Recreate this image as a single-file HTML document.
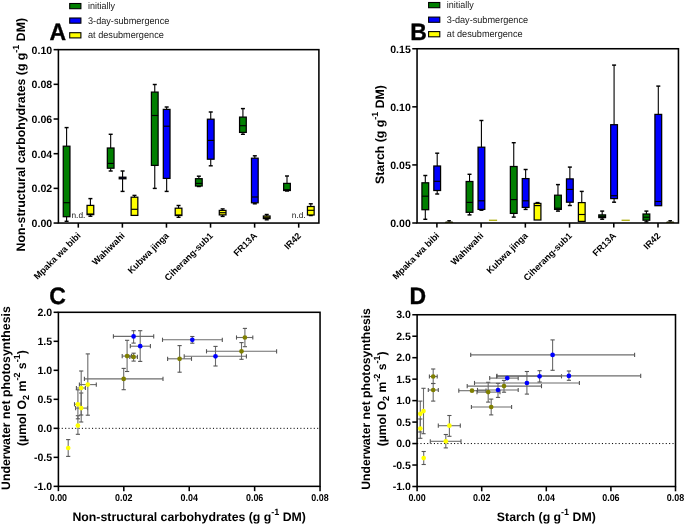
<!DOCTYPE html>
<html><head><meta charset="utf-8"><style>
html,body{margin:0;padding:0;background:#fff;}
svg{display:block;font-family:"Liberation Sans", sans-serif;will-change:transform;text-rendering:geometricPrecision;}
</style></head><body>
<svg width="685" height="525" viewBox="0 0 685 525">
<rect width="685" height="525" fill="#fff"/>
<rect x="58.4" y="49.65" width="260.5" height="173.4" fill="none" stroke="#000" stroke-width="1.55"/>
<line x1="53.60" y1="223.05" x2="58.40" y2="223.05" stroke="#000" stroke-width="1.55" />
<text x="52.20" y="227.10" font-size="10.6" font-weight="bold" text-anchor="end" fill="#000" >0.00</text>
<line x1="53.60" y1="188.37" x2="58.40" y2="188.37" stroke="#000" stroke-width="1.55" />
<text x="52.20" y="192.42" font-size="10.6" font-weight="bold" text-anchor="end" fill="#000" >0.02</text>
<line x1="53.60" y1="153.69" x2="58.40" y2="153.69" stroke="#000" stroke-width="1.55" />
<text x="52.20" y="157.74" font-size="10.6" font-weight="bold" text-anchor="end" fill="#000" >0.04</text>
<line x1="53.60" y1="119.01" x2="58.40" y2="119.01" stroke="#000" stroke-width="1.55" />
<text x="52.20" y="123.06" font-size="10.6" font-weight="bold" text-anchor="end" fill="#000" >0.06</text>
<line x1="53.60" y1="84.33" x2="58.40" y2="84.33" stroke="#000" stroke-width="1.55" />
<text x="52.20" y="88.38" font-size="10.6" font-weight="bold" text-anchor="end" fill="#000" >0.08</text>
<line x1="53.60" y1="49.65" x2="58.40" y2="49.65" stroke="#000" stroke-width="1.55" />
<text x="52.20" y="53.70" font-size="10.6" font-weight="bold" text-anchor="end" fill="#000" >0.10</text>
<line x1="78.30" y1="223.05" x2="78.30" y2="227.65" stroke="#000" stroke-width="1.55" />
<line x1="122.38" y1="223.05" x2="122.38" y2="227.65" stroke="#000" stroke-width="1.55" />
<line x1="166.46" y1="223.05" x2="166.46" y2="227.65" stroke="#000" stroke-width="1.55" />
<line x1="210.54" y1="223.05" x2="210.54" y2="227.65" stroke="#000" stroke-width="1.55" />
<line x1="254.62" y1="223.05" x2="254.62" y2="227.65" stroke="#000" stroke-width="1.55" />
<line x1="298.70" y1="223.05" x2="298.70" y2="227.65" stroke="#000" stroke-width="1.55" />
<line x1="66.60" y1="127.60" x2="66.60" y2="146.20" stroke="#000" stroke-width="1.1" />
<line x1="64.60" y1="127.60" x2="68.60" y2="127.60" stroke="#000" stroke-width="1.45" />
<line x1="66.60" y1="216.70" x2="66.60" y2="221.30" stroke="#000" stroke-width="1.1" />
<line x1="64.60" y1="221.30" x2="68.60" y2="221.30" stroke="#000" stroke-width="1.45" />
<rect x="63.25" y="146.20" width="6.70" height="70.50" fill="#007f00" stroke="#000" stroke-width="1.25"/>
<line x1="63.25" y1="202.70" x2="69.95" y2="202.70" stroke="#000" stroke-width="1.15" />
<line x1="90.40" y1="198.60" x2="90.40" y2="205.40" stroke="#000" stroke-width="1.1" />
<line x1="88.40" y1="198.60" x2="92.40" y2="198.60" stroke="#000" stroke-width="1.45" />
<line x1="90.40" y1="214.60" x2="90.40" y2="216.20" stroke="#000" stroke-width="1.1" />
<line x1="88.40" y1="216.20" x2="92.40" y2="216.20" stroke="#000" stroke-width="1.45" />
<rect x="87.05" y="205.40" width="6.70" height="9.20" fill="#ffff00" stroke="#000" stroke-width="1.25"/>
<line x1="87.05" y1="214.00" x2="93.75" y2="214.00" stroke="#000" stroke-width="1.15" />
<line x1="110.68" y1="134.30" x2="110.68" y2="148.00" stroke="#000" stroke-width="1.1" />
<line x1="108.68" y1="134.30" x2="112.68" y2="134.30" stroke="#000" stroke-width="1.45" />
<line x1="110.68" y1="168.20" x2="110.68" y2="171.00" stroke="#000" stroke-width="1.1" />
<line x1="108.68" y1="171.00" x2="112.68" y2="171.00" stroke="#000" stroke-width="1.45" />
<rect x="107.33" y="148.00" width="6.70" height="20.20" fill="#007f00" stroke="#000" stroke-width="1.25"/>
<line x1="107.33" y1="163.40" x2="114.03" y2="163.40" stroke="#000" stroke-width="1.15" />
<line x1="122.58" y1="171.00" x2="122.58" y2="177.20" stroke="#000" stroke-width="1.1" />
<line x1="120.58" y1="171.00" x2="124.58" y2="171.00" stroke="#000" stroke-width="1.45" />
<line x1="122.58" y1="178.80" x2="122.58" y2="191.40" stroke="#000" stroke-width="1.1" />
<line x1="120.58" y1="191.40" x2="124.58" y2="191.40" stroke="#000" stroke-width="1.45" />
<rect x="119.23" y="177.20" width="6.70" height="1.60" fill="#0000ff" stroke="#000" stroke-width="1.25"/>
<line x1="119.23" y1="178.00" x2="125.93" y2="178.00" stroke="#000" stroke-width="1.15" />
<line x1="134.48" y1="195.40" x2="134.48" y2="197.20" stroke="#000" stroke-width="1.1" />
<line x1="132.48" y1="195.40" x2="136.48" y2="195.40" stroke="#000" stroke-width="1.45" />
<rect x="131.13" y="197.20" width="6.70" height="18.20" fill="#ffff00" stroke="#000" stroke-width="1.25"/>
<line x1="131.13" y1="209.30" x2="137.83" y2="209.30" stroke="#000" stroke-width="1.15" />
<line x1="154.76" y1="84.50" x2="154.76" y2="92.10" stroke="#000" stroke-width="1.1" />
<line x1="152.76" y1="84.50" x2="156.76" y2="84.50" stroke="#000" stroke-width="1.45" />
<line x1="154.76" y1="165.40" x2="154.76" y2="188.40" stroke="#000" stroke-width="1.1" />
<line x1="152.76" y1="188.40" x2="156.76" y2="188.40" stroke="#000" stroke-width="1.45" />
<rect x="151.41" y="92.10" width="6.70" height="73.30" fill="#007f00" stroke="#000" stroke-width="1.25"/>
<line x1="151.41" y1="115.50" x2="158.11" y2="115.50" stroke="#000" stroke-width="1.15" />
<line x1="166.66" y1="107.00" x2="166.66" y2="109.40" stroke="#000" stroke-width="1.1" />
<line x1="164.66" y1="107.00" x2="168.66" y2="107.00" stroke="#000" stroke-width="1.45" />
<line x1="166.66" y1="178.40" x2="166.66" y2="191.40" stroke="#000" stroke-width="1.1" />
<line x1="164.66" y1="191.40" x2="168.66" y2="191.40" stroke="#000" stroke-width="1.45" />
<rect x="163.31" y="109.40" width="6.70" height="69.00" fill="#0000ff" stroke="#000" stroke-width="1.25"/>
<line x1="163.31" y1="126.20" x2="170.01" y2="126.20" stroke="#000" stroke-width="1.15" />
<line x1="178.56" y1="205.50" x2="178.56" y2="208.20" stroke="#000" stroke-width="1.1" />
<line x1="176.56" y1="205.50" x2="180.56" y2="205.50" stroke="#000" stroke-width="1.45" />
<line x1="178.56" y1="215.50" x2="178.56" y2="217.30" stroke="#000" stroke-width="1.1" />
<line x1="176.56" y1="217.30" x2="180.56" y2="217.30" stroke="#000" stroke-width="1.45" />
<rect x="175.21" y="208.20" width="6.70" height="7.30" fill="#ffff00" stroke="#000" stroke-width="1.25"/>
<line x1="175.21" y1="215.00" x2="181.91" y2="215.00" stroke="#000" stroke-width="1.15" />
<line x1="198.84" y1="176.20" x2="198.84" y2="178.70" stroke="#000" stroke-width="1.1" />
<line x1="196.84" y1="176.20" x2="200.84" y2="176.20" stroke="#000" stroke-width="1.45" />
<line x1="198.84" y1="186.00" x2="198.84" y2="186.50" stroke="#000" stroke-width="1.1" />
<line x1="196.84" y1="186.50" x2="200.84" y2="186.50" stroke="#000" stroke-width="1.45" />
<rect x="195.49" y="178.70" width="6.70" height="7.30" fill="#007f00" stroke="#000" stroke-width="1.25"/>
<line x1="195.49" y1="183.40" x2="202.19" y2="183.40" stroke="#000" stroke-width="1.15" />
<line x1="210.74" y1="112.00" x2="210.74" y2="119.20" stroke="#000" stroke-width="1.1" />
<line x1="208.74" y1="112.00" x2="212.74" y2="112.00" stroke="#000" stroke-width="1.45" />
<line x1="210.74" y1="159.20" x2="210.74" y2="165.80" stroke="#000" stroke-width="1.1" />
<line x1="208.74" y1="165.80" x2="212.74" y2="165.80" stroke="#000" stroke-width="1.45" />
<rect x="207.39" y="119.20" width="6.70" height="40.00" fill="#0000ff" stroke="#000" stroke-width="1.25"/>
<line x1="207.39" y1="140.40" x2="214.09" y2="140.40" stroke="#000" stroke-width="1.15" />
<line x1="222.64" y1="208.90" x2="222.64" y2="210.40" stroke="#000" stroke-width="1.1" />
<line x1="220.64" y1="208.90" x2="224.64" y2="208.90" stroke="#000" stroke-width="1.45" />
<line x1="222.64" y1="214.90" x2="222.64" y2="216.40" stroke="#000" stroke-width="1.1" />
<line x1="220.64" y1="216.40" x2="224.64" y2="216.40" stroke="#000" stroke-width="1.45" />
<rect x="219.29" y="210.40" width="6.70" height="4.50" fill="#ffff00" stroke="#000" stroke-width="1.25"/>
<line x1="219.29" y1="212.70" x2="225.99" y2="212.70" stroke="#000" stroke-width="1.15" />
<line x1="242.92" y1="108.60" x2="242.92" y2="117.10" stroke="#000" stroke-width="1.1" />
<line x1="240.92" y1="108.60" x2="244.92" y2="108.60" stroke="#000" stroke-width="1.45" />
<line x1="242.92" y1="132.40" x2="242.92" y2="134.30" stroke="#000" stroke-width="1.1" />
<line x1="240.92" y1="134.30" x2="244.92" y2="134.30" stroke="#000" stroke-width="1.45" />
<rect x="239.57" y="117.10" width="6.70" height="15.30" fill="#007f00" stroke="#000" stroke-width="1.25"/>
<line x1="239.57" y1="125.70" x2="246.27" y2="125.70" stroke="#000" stroke-width="1.15" />
<line x1="254.82" y1="155.80" x2="254.82" y2="158.20" stroke="#000" stroke-width="1.1" />
<line x1="252.82" y1="155.80" x2="256.82" y2="155.80" stroke="#000" stroke-width="1.45" />
<line x1="254.82" y1="202.80" x2="254.82" y2="203.80" stroke="#000" stroke-width="1.1" />
<line x1="252.82" y1="203.80" x2="256.82" y2="203.80" stroke="#000" stroke-width="1.45" />
<rect x="251.47" y="158.20" width="6.70" height="44.60" fill="#0000ff" stroke="#000" stroke-width="1.25"/>
<line x1="251.47" y1="197.00" x2="258.17" y2="197.00" stroke="#000" stroke-width="1.15" />
<line x1="266.72" y1="214.50" x2="266.72" y2="216.00" stroke="#000" stroke-width="1.1" />
<line x1="264.72" y1="214.50" x2="268.72" y2="214.50" stroke="#000" stroke-width="1.45" />
<line x1="266.72" y1="218.60" x2="266.72" y2="219.80" stroke="#000" stroke-width="1.1" />
<line x1="264.72" y1="219.80" x2="268.72" y2="219.80" stroke="#000" stroke-width="1.45" />
<rect x="263.37" y="216.00" width="6.70" height="2.60" fill="#ffff00" stroke="#000" stroke-width="1.25"/>
<line x1="263.37" y1="217.30" x2="270.07" y2="217.30" stroke="#000" stroke-width="1.15" />
<line x1="287.00" y1="176.00" x2="287.00" y2="183.40" stroke="#000" stroke-width="1.1" />
<line x1="285.00" y1="176.00" x2="289.00" y2="176.00" stroke="#000" stroke-width="1.45" />
<line x1="287.00" y1="190.50" x2="287.00" y2="191.00" stroke="#000" stroke-width="1.1" />
<line x1="285.00" y1="191.00" x2="289.00" y2="191.00" stroke="#000" stroke-width="1.45" />
<rect x="283.65" y="183.40" width="6.70" height="7.10" fill="#007f00" stroke="#000" stroke-width="1.25"/>
<line x1="283.65" y1="189.70" x2="290.35" y2="189.70" stroke="#000" stroke-width="1.15" />
<line x1="310.80" y1="203.80" x2="310.80" y2="206.50" stroke="#000" stroke-width="1.1" />
<line x1="308.80" y1="203.80" x2="312.80" y2="203.80" stroke="#000" stroke-width="1.45" />
<line x1="310.80" y1="215.00" x2="310.80" y2="215.50" stroke="#000" stroke-width="1.1" />
<line x1="308.80" y1="215.50" x2="312.80" y2="215.50" stroke="#000" stroke-width="1.45" />
<rect x="307.45" y="206.50" width="6.70" height="8.50" fill="#ffff00" stroke="#000" stroke-width="1.25"/>
<line x1="307.45" y1="210.30" x2="314.15" y2="210.30" stroke="#000" stroke-width="1.15" />
<text x="71.50" y="218.20" font-size="8.3" font-weight="normal" text-anchor="start" fill="#1a1a1a" >n.d.</text>
<text x="291.80" y="218.20" font-size="8.3" font-weight="normal" text-anchor="start" fill="#1a1a1a" >n.d.</text>
<rect x="417.05" y="48.75" width="261.40000000000003" height="174.25" fill="none" stroke="#000" stroke-width="1.55"/>
<line x1="412.25" y1="223.00" x2="417.05" y2="223.00" stroke="#000" stroke-width="1.55" />
<text x="410.85" y="227.05" font-size="10.6" font-weight="bold" text-anchor="end" fill="#000" >0.00</text>
<line x1="412.25" y1="164.92" x2="417.05" y2="164.92" stroke="#000" stroke-width="1.55" />
<text x="410.85" y="168.97" font-size="10.6" font-weight="bold" text-anchor="end" fill="#000" >0.05</text>
<line x1="412.25" y1="106.83" x2="417.05" y2="106.83" stroke="#000" stroke-width="1.55" />
<text x="410.85" y="110.88" font-size="10.6" font-weight="bold" text-anchor="end" fill="#000" >0.10</text>
<line x1="412.25" y1="48.75" x2="417.05" y2="48.75" stroke="#000" stroke-width="1.55" />
<text x="410.85" y="52.80" font-size="10.6" font-weight="bold" text-anchor="end" fill="#000" >0.15</text>
<line x1="436.90" y1="223.00" x2="436.90" y2="227.60" stroke="#000" stroke-width="1.55" />
<line x1="481.12" y1="223.00" x2="481.12" y2="227.60" stroke="#000" stroke-width="1.55" />
<line x1="525.34" y1="223.00" x2="525.34" y2="227.60" stroke="#000" stroke-width="1.55" />
<line x1="569.56" y1="223.00" x2="569.56" y2="227.60" stroke="#000" stroke-width="1.55" />
<line x1="613.78" y1="223.00" x2="613.78" y2="227.60" stroke="#000" stroke-width="1.55" />
<line x1="658.00" y1="223.00" x2="658.00" y2="227.60" stroke="#000" stroke-width="1.55" />
<line x1="425.30" y1="175.50" x2="425.30" y2="182.80" stroke="#000" stroke-width="1.1" />
<line x1="423.30" y1="175.50" x2="427.30" y2="175.50" stroke="#000" stroke-width="1.45" />
<line x1="425.30" y1="209.70" x2="425.30" y2="219.30" stroke="#000" stroke-width="1.1" />
<line x1="423.30" y1="219.30" x2="427.30" y2="219.30" stroke="#000" stroke-width="1.45" />
<rect x="421.93" y="182.80" width="6.75" height="26.90" fill="#007f00" stroke="#000" stroke-width="1.25"/>
<line x1="421.93" y1="196.20" x2="428.68" y2="196.20" stroke="#000" stroke-width="1.15" />
<line x1="437.20" y1="153.20" x2="437.20" y2="166.00" stroke="#000" stroke-width="1.1" />
<line x1="435.20" y1="153.20" x2="439.20" y2="153.20" stroke="#000" stroke-width="1.45" />
<line x1="437.20" y1="190.50" x2="437.20" y2="194.00" stroke="#000" stroke-width="1.1" />
<line x1="435.20" y1="194.00" x2="439.20" y2="194.00" stroke="#000" stroke-width="1.45" />
<rect x="433.82" y="166.00" width="6.75" height="24.50" fill="#0000ff" stroke="#000" stroke-width="1.25"/>
<line x1="433.82" y1="181.30" x2="440.57" y2="181.30" stroke="#000" stroke-width="1.15" />
<path d="M444.80,223 L445.70,221.5 L452.50,221.5 L453.40,223 Z" fill="#1a1a00"/>
<line x1="447.30" y1="220.70" x2="450.90" y2="220.70" stroke="#000" stroke-width="1.3" />
<line x1="449.10" y1="220.70" x2="449.10" y2="221.80" stroke="#000" stroke-width="1.1" />
<line x1="469.52" y1="174.30" x2="469.52" y2="181.50" stroke="#000" stroke-width="1.1" />
<line x1="467.52" y1="174.30" x2="471.52" y2="174.30" stroke="#000" stroke-width="1.45" />
<line x1="469.52" y1="212.30" x2="469.52" y2="214.90" stroke="#000" stroke-width="1.1" />
<line x1="467.52" y1="214.90" x2="471.52" y2="214.90" stroke="#000" stroke-width="1.45" />
<rect x="466.15" y="181.50" width="6.75" height="30.80" fill="#007f00" stroke="#000" stroke-width="1.25"/>
<line x1="466.15" y1="202.40" x2="472.90" y2="202.40" stroke="#000" stroke-width="1.15" />
<line x1="481.42" y1="120.50" x2="481.42" y2="147.20" stroke="#000" stroke-width="1.1" />
<line x1="479.42" y1="120.50" x2="483.42" y2="120.50" stroke="#000" stroke-width="1.45" />
<line x1="481.42" y1="209.40" x2="481.42" y2="210.20" stroke="#000" stroke-width="1.1" />
<line x1="479.42" y1="210.20" x2="483.42" y2="210.20" stroke="#000" stroke-width="1.45" />
<rect x="478.05" y="147.20" width="6.75" height="62.20" fill="#0000ff" stroke="#000" stroke-width="1.25"/>
<line x1="478.05" y1="200.80" x2="484.80" y2="200.80" stroke="#000" stroke-width="1.15" />
<rect x="488.92" y="219.6" width="8.2" height="1.4" fill="#b4b41e"/>
<line x1="513.74" y1="142.70" x2="513.74" y2="166.50" stroke="#000" stroke-width="1.1" />
<line x1="511.74" y1="142.70" x2="515.74" y2="142.70" stroke="#000" stroke-width="1.45" />
<line x1="513.74" y1="213.40" x2="513.74" y2="217.10" stroke="#000" stroke-width="1.1" />
<line x1="511.74" y1="217.10" x2="515.74" y2="217.10" stroke="#000" stroke-width="1.45" />
<rect x="510.36" y="166.50" width="6.75" height="46.90" fill="#007f00" stroke="#000" stroke-width="1.25"/>
<line x1="510.36" y1="199.60" x2="517.11" y2="199.60" stroke="#000" stroke-width="1.15" />
<line x1="525.64" y1="169.50" x2="525.64" y2="178.60" stroke="#000" stroke-width="1.1" />
<line x1="523.64" y1="169.50" x2="527.64" y2="169.50" stroke="#000" stroke-width="1.45" />
<line x1="525.64" y1="207.40" x2="525.64" y2="209.40" stroke="#000" stroke-width="1.1" />
<line x1="523.64" y1="209.40" x2="527.64" y2="209.40" stroke="#000" stroke-width="1.45" />
<rect x="522.26" y="178.60" width="6.75" height="28.80" fill="#0000ff" stroke="#000" stroke-width="1.25"/>
<line x1="522.26" y1="200.80" x2="529.01" y2="200.80" stroke="#000" stroke-width="1.15" />
<line x1="537.54" y1="202.60" x2="537.54" y2="203.40" stroke="#000" stroke-width="1.1" />
<line x1="535.54" y1="202.60" x2="539.54" y2="202.60" stroke="#000" stroke-width="1.45" />
<rect x="534.16" y="203.40" width="6.75" height="16.60" fill="#ffff00" stroke="#000" stroke-width="1.25"/>
<line x1="534.16" y1="205.60" x2="540.91" y2="205.60" stroke="#000" stroke-width="1.15" />
<line x1="557.96" y1="184.60" x2="557.96" y2="195.20" stroke="#000" stroke-width="1.1" />
<line x1="555.96" y1="184.60" x2="559.96" y2="184.60" stroke="#000" stroke-width="1.45" />
<line x1="557.96" y1="209.40" x2="557.96" y2="211.10" stroke="#000" stroke-width="1.1" />
<line x1="555.96" y1="211.10" x2="559.96" y2="211.10" stroke="#000" stroke-width="1.45" />
<rect x="554.58" y="195.20" width="6.75" height="14.20" fill="#007f00" stroke="#000" stroke-width="1.25"/>
<line x1="554.58" y1="208.20" x2="561.33" y2="208.20" stroke="#000" stroke-width="1.15" />
<line x1="569.86" y1="167.10" x2="569.86" y2="178.90" stroke="#000" stroke-width="1.1" />
<line x1="567.86" y1="167.10" x2="571.86" y2="167.10" stroke="#000" stroke-width="1.45" />
<line x1="569.86" y1="202.20" x2="569.86" y2="205.50" stroke="#000" stroke-width="1.1" />
<line x1="567.86" y1="205.50" x2="571.86" y2="205.50" stroke="#000" stroke-width="1.45" />
<rect x="566.48" y="178.90" width="6.75" height="23.30" fill="#0000ff" stroke="#000" stroke-width="1.25"/>
<line x1="566.48" y1="189.40" x2="573.23" y2="189.40" stroke="#000" stroke-width="1.15" />
<line x1="581.76" y1="191.40" x2="581.76" y2="202.60" stroke="#000" stroke-width="1.1" />
<line x1="579.76" y1="191.40" x2="583.76" y2="191.40" stroke="#000" stroke-width="1.45" />
<rect x="578.38" y="202.60" width="6.75" height="18.80" fill="#ffff00" stroke="#000" stroke-width="1.25"/>
<line x1="578.38" y1="214.50" x2="585.13" y2="214.50" stroke="#000" stroke-width="1.15" />
<line x1="602.18" y1="211.10" x2="602.18" y2="214.90" stroke="#000" stroke-width="1.1" />
<line x1="600.18" y1="211.10" x2="604.18" y2="211.10" stroke="#000" stroke-width="1.45" />
<line x1="602.18" y1="217.60" x2="602.18" y2="219.20" stroke="#000" stroke-width="1.1" />
<line x1="600.18" y1="219.20" x2="604.18" y2="219.20" stroke="#000" stroke-width="1.45" />
<rect x="598.80" y="214.90" width="6.75" height="2.70" fill="#007f00" stroke="#000" stroke-width="1.25"/>
<line x1="598.80" y1="216.30" x2="605.55" y2="216.30" stroke="#000" stroke-width="1.15" />
<line x1="614.08" y1="65.10" x2="614.08" y2="124.70" stroke="#000" stroke-width="1.1" />
<line x1="612.08" y1="65.10" x2="616.08" y2="65.10" stroke="#000" stroke-width="1.45" />
<line x1="614.08" y1="198.60" x2="614.08" y2="202.20" stroke="#000" stroke-width="1.1" />
<line x1="612.08" y1="202.20" x2="616.08" y2="202.20" stroke="#000" stroke-width="1.45" />
<rect x="610.70" y="124.70" width="6.75" height="73.90" fill="#0000ff" stroke="#000" stroke-width="1.25"/>
<line x1="610.70" y1="195.70" x2="617.45" y2="195.70" stroke="#000" stroke-width="1.15" />
<rect x="621.58" y="219.6" width="8.2" height="1.4" fill="#b4b41e"/>
<line x1="646.40" y1="211.10" x2="646.40" y2="214.00" stroke="#000" stroke-width="1.1" />
<line x1="644.40" y1="211.10" x2="648.40" y2="211.10" stroke="#000" stroke-width="1.45" />
<line x1="646.40" y1="220.20" x2="646.40" y2="221.90" stroke="#000" stroke-width="1.1" />
<line x1="644.40" y1="221.90" x2="648.40" y2="221.90" stroke="#000" stroke-width="1.45" />
<rect x="643.02" y="214.00" width="6.75" height="6.20" fill="#007f00" stroke="#000" stroke-width="1.25"/>
<line x1="643.02" y1="217.20" x2="649.77" y2="217.20" stroke="#000" stroke-width="1.15" />
<line x1="658.30" y1="86.10" x2="658.30" y2="114.40" stroke="#000" stroke-width="1.1" />
<line x1="656.30" y1="86.10" x2="660.30" y2="86.10" stroke="#000" stroke-width="1.45" />
<rect x="654.92" y="114.40" width="6.75" height="91.30" fill="#0000ff" stroke="#000" stroke-width="1.25"/>
<line x1="654.92" y1="201.50" x2="661.67" y2="201.50" stroke="#000" stroke-width="1.15" />
<path d="M665.90,223 L666.80,221.5 L673.60,221.5 L674.50,223 Z" fill="#1a1a00"/>
<line x1="668.40" y1="220.70" x2="672.00" y2="220.70" stroke="#000" stroke-width="1.3" />
<line x1="670.20" y1="220.70" x2="670.20" y2="221.80" stroke="#000" stroke-width="1.1" />
<text x="81.30" y="236.30" font-size="9.15" font-weight="bold" text-anchor="end" transform="rotate(-45 81.30 236.30)">Mpaka wa bibi</text>
<text x="125.38" y="236.30" font-size="9.15" font-weight="bold" text-anchor="end" transform="rotate(-45 125.38 236.30)">Wahiwahi</text>
<text x="169.46" y="236.30" font-size="9.15" font-weight="bold" text-anchor="end" transform="rotate(-45 169.46 236.30)">Kubwa jinga</text>
<text x="213.54" y="236.30" font-size="9.15" font-weight="bold" text-anchor="end" transform="rotate(-45 213.54 236.30)">Ciherang-sub1</text>
<text x="257.62" y="236.30" font-size="9.15" font-weight="bold" text-anchor="end" transform="rotate(-45 257.62 236.30)">FR13A</text>
<text x="301.70" y="236.30" font-size="9.15" font-weight="bold" text-anchor="end" transform="rotate(-45 301.70 236.30)">IR42</text>
<text x="439.90" y="236.30" font-size="9.15" font-weight="bold" text-anchor="end" transform="rotate(-45 439.90 236.30)">Mpaka wa bibi</text>
<text x="484.12" y="236.30" font-size="9.15" font-weight="bold" text-anchor="end" transform="rotate(-45 484.12 236.30)">Wahiwahi</text>
<text x="528.34" y="236.30" font-size="9.15" font-weight="bold" text-anchor="end" transform="rotate(-45 528.34 236.30)">Kubwa jinga</text>
<text x="572.56" y="236.30" font-size="9.15" font-weight="bold" text-anchor="end" transform="rotate(-45 572.56 236.30)">Ciherang-sub1</text>
<text x="616.78" y="236.30" font-size="9.15" font-weight="bold" text-anchor="end" transform="rotate(-45 616.78 236.30)">FR13A</text>
<text x="661.00" y="236.30" font-size="9.15" font-weight="bold" text-anchor="end" transform="rotate(-45 661.00 236.30)">IR42</text>
<text x="24.70" y="134.70" font-size="12.3" font-weight="bold" text-anchor="middle" transform="rotate(-90 24.70 134.70)">Non-structural carbohydrates (g g<tspan font-size="9" dy="-6">-1</tspan><tspan dy="6"> </tspan>DM)</text>
<text x="383.70" y="134.50" font-size="12.3" font-weight="bold" text-anchor="middle" transform="rotate(-90 383.70 134.50)">Starch (g g<tspan font-size="9" dy="-6">-1</tspan><tspan dy="6"> </tspan>DM)</text>
<text transform="translate(49.6,40.3) scale(1,1.03)" font-size="23" font-weight="bold" stroke="#000" stroke-width="0.35">A</text>
<text transform="translate(410.2,40.1) scale(1,1.03)" font-size="23" font-weight="bold" stroke="#000" stroke-width="0.35">B</text>
<text transform="translate(49.3,303.6) scale(1,1.03)" font-size="23" font-weight="bold" stroke="#000" stroke-width="0.35">C</text>
<text transform="translate(409.4,303.7) scale(1,1.03)" font-size="23" font-weight="bold" stroke="#000" stroke-width="0.35">D</text>
<rect x="69.70" y="3.50" width="11.2" height="5.2" fill="#007f00" stroke="#000" stroke-width="1.1"/>
<text x="88.00" y="9.20" font-size="9.7" font-weight="normal" text-anchor="start" fill="#1a1a1a" textLength="26.9" lengthAdjust="spacingAndGlyphs">initially</text>
<rect x="69.70" y="18.00" width="11.2" height="5.2" fill="#0000ff" stroke="#000" stroke-width="1.1"/>
<text x="88.00" y="23.70" font-size="9.7" font-weight="normal" text-anchor="start" fill="#1a1a1a" textLength="81.3" lengthAdjust="spacingAndGlyphs">3-day-submergence</text>
<rect x="69.70" y="32.70" width="11.2" height="5.2" fill="#ffff00" stroke="#000" stroke-width="1.1"/>
<text x="88.00" y="38.40" font-size="9.7" font-weight="normal" text-anchor="start" fill="#1a1a1a" textLength="75.8" lengthAdjust="spacingAndGlyphs">at desubmergence</text>
<rect x="428.60" y="2.50" width="11.2" height="5.2" fill="#007f00" stroke="#000" stroke-width="1.1"/>
<text x="446.80" y="8.20" font-size="9.7" font-weight="normal" text-anchor="start" fill="#1a1a1a" textLength="26.9" lengthAdjust="spacingAndGlyphs">initially</text>
<rect x="428.60" y="17.10" width="11.2" height="5.2" fill="#0000ff" stroke="#000" stroke-width="1.1"/>
<text x="446.80" y="22.80" font-size="9.7" font-weight="normal" text-anchor="start" fill="#1a1a1a" textLength="81.3" lengthAdjust="spacingAndGlyphs">3-day-submergence</text>
<rect x="428.60" y="31.60" width="11.2" height="5.2" fill="#ffff00" stroke="#000" stroke-width="1.1"/>
<text x="446.80" y="37.30" font-size="9.7" font-weight="normal" text-anchor="start" fill="#1a1a1a" textLength="75.8" lengthAdjust="spacingAndGlyphs">at desubmergence</text>
<rect x="58.4" y="312.3" width="261.65000000000003" height="174.05" fill="none" stroke="#000" stroke-width="1.55"/>
<line x1="53.60" y1="486.35" x2="58.40" y2="486.35" stroke="#000" stroke-width="1.55" />
<text x="52.20" y="490.40" font-size="10.6" font-weight="bold" text-anchor="end" fill="#000" >-1.0</text>
<line x1="53.60" y1="457.34" x2="58.40" y2="457.34" stroke="#000" stroke-width="1.55" />
<text x="52.20" y="461.39" font-size="10.6" font-weight="bold" text-anchor="end" fill="#000" >-0.5</text>
<line x1="53.60" y1="428.33" x2="58.40" y2="428.33" stroke="#000" stroke-width="1.55" />
<text x="52.20" y="432.38" font-size="10.6" font-weight="bold" text-anchor="end" fill="#000" >0.0</text>
<line x1="53.60" y1="399.32" x2="58.40" y2="399.32" stroke="#000" stroke-width="1.55" />
<text x="52.20" y="403.38" font-size="10.6" font-weight="bold" text-anchor="end" fill="#000" >0.5</text>
<line x1="53.60" y1="370.32" x2="58.40" y2="370.32" stroke="#000" stroke-width="1.55" />
<text x="52.20" y="374.37" font-size="10.6" font-weight="bold" text-anchor="end" fill="#000" >1.0</text>
<line x1="53.60" y1="341.31" x2="58.40" y2="341.31" stroke="#000" stroke-width="1.55" />
<text x="52.20" y="345.36" font-size="10.6" font-weight="bold" text-anchor="end" fill="#000" >1.5</text>
<line x1="53.60" y1="312.30" x2="58.40" y2="312.30" stroke="#000" stroke-width="1.55" />
<text x="52.20" y="316.35" font-size="10.6" font-weight="bold" text-anchor="end" fill="#000" >2.0</text>
<line x1="58.40" y1="486.35" x2="58.40" y2="491.15" stroke="#000" stroke-width="1.55" />
<text x="58.40" y="501.20" font-size="9.9" font-weight="bold" text-anchor="middle" fill="#000" textLength="17.4" lengthAdjust="spacingAndGlyphs">0.00</text>
<line x1="123.81" y1="486.35" x2="123.81" y2="491.15" stroke="#000" stroke-width="1.55" />
<text x="123.81" y="501.20" font-size="9.9" font-weight="bold" text-anchor="middle" fill="#000" textLength="17.4" lengthAdjust="spacingAndGlyphs">0.02</text>
<line x1="189.23" y1="486.35" x2="189.23" y2="491.15" stroke="#000" stroke-width="1.55" />
<text x="189.23" y="501.20" font-size="9.9" font-weight="bold" text-anchor="middle" fill="#000" textLength="17.4" lengthAdjust="spacingAndGlyphs">0.04</text>
<line x1="254.64" y1="486.35" x2="254.64" y2="491.15" stroke="#000" stroke-width="1.55" />
<text x="254.64" y="501.20" font-size="9.9" font-weight="bold" text-anchor="middle" fill="#000" textLength="17.4" lengthAdjust="spacingAndGlyphs">0.06</text>
<line x1="320.05" y1="486.35" x2="320.05" y2="491.15" stroke="#000" stroke-width="1.55" />
<text x="320.05" y="501.20" font-size="9.9" font-weight="bold" text-anchor="middle" fill="#000" textLength="17.4" lengthAdjust="spacingAndGlyphs">0.08</text>
<line x1="58.40" y1="428.33" x2="320.05" y2="428.33" stroke="#000" stroke-width="1" stroke-dasharray="1.1,2.26"/>
<text x="10.20" y="398.10" font-size="12.3" font-weight="bold" text-anchor="middle" transform="rotate(-90 10.20 398.10)">Underwater net photosynthesis</text>
<text x="26.50" y="398.10" font-size="12.3" font-weight="bold" text-anchor="middle" transform="rotate(-90 26.50 398.10)">(µmol O<tspan font-size="9" dy="3">2</tspan><tspan dy="-3"> m</tspan><tspan font-size="9" dy="-6">-2</tspan><tspan dy="6"> s</tspan><tspan font-size="9" dy="-6">-1</tspan><tspan dy="6">)</tspan></text>
<text x="189.22" y="521.00" font-size="12.3" font-weight="bold" text-anchor="middle" fill="#000" >Non-structural carbohydrates (g g<tspan font-size="9" dy="-6">-1</tspan><tspan dy="6"> </tspan>DM)</text>
<line x1="68.20" y1="439.60" x2="68.20" y2="456.40" stroke="#6c6c6c" stroke-width="1.1" />
<line x1="66.10" y1="439.60" x2="70.30" y2="439.60" stroke="#555" stroke-width="1.1" />
<line x1="66.10" y1="456.40" x2="70.30" y2="456.40" stroke="#555" stroke-width="1.1" />
<line x1="77.90" y1="415.70" x2="77.90" y2="434.30" stroke="#6c6c6c" stroke-width="1.1" />
<line x1="75.80" y1="415.70" x2="80.00" y2="415.70" stroke="#555" stroke-width="1.1" />
<line x1="75.80" y1="434.30" x2="80.00" y2="434.30" stroke="#555" stroke-width="1.1" />
<line x1="74.50" y1="404.30" x2="81.20" y2="404.30" stroke="#6c6c6c" stroke-width="1.1" />
<line x1="74.50" y1="402.20" x2="74.50" y2="406.40" stroke="#555" stroke-width="1.1" />
<line x1="81.20" y1="402.20" x2="81.20" y2="406.40" stroke="#555" stroke-width="1.1" />
<line x1="77.90" y1="389.80" x2="77.90" y2="418.80" stroke="#6c6c6c" stroke-width="1.1" />
<line x1="75.80" y1="389.80" x2="80.00" y2="389.80" stroke="#555" stroke-width="1.1" />
<line x1="75.80" y1="418.80" x2="80.00" y2="418.80" stroke="#555" stroke-width="1.1" />
<line x1="75.60" y1="408.10" x2="87.50" y2="408.10" stroke="#6c6c6c" stroke-width="1.1" />
<line x1="75.60" y1="406.00" x2="75.60" y2="410.20" stroke="#555" stroke-width="1.1" />
<line x1="87.50" y1="406.00" x2="87.50" y2="410.20" stroke="#555" stroke-width="1.1" />
<line x1="81.20" y1="393.00" x2="81.20" y2="422.00" stroke="#6c6c6c" stroke-width="1.1" />
<line x1="79.10" y1="393.00" x2="83.30" y2="393.00" stroke="#555" stroke-width="1.1" />
<line x1="79.10" y1="422.00" x2="83.30" y2="422.00" stroke="#555" stroke-width="1.1" />
<line x1="76.40" y1="388.00" x2="85.40" y2="388.00" stroke="#6c6c6c" stroke-width="1.1" />
<line x1="76.40" y1="385.90" x2="76.40" y2="390.10" stroke="#555" stroke-width="1.1" />
<line x1="85.40" y1="385.90" x2="85.40" y2="390.10" stroke="#555" stroke-width="1.1" />
<line x1="81.20" y1="371.00" x2="81.20" y2="415.00" stroke="#6c6c6c" stroke-width="1.1" />
<line x1="79.10" y1="371.00" x2="83.30" y2="371.00" stroke="#555" stroke-width="1.1" />
<line x1="79.10" y1="415.00" x2="83.30" y2="415.00" stroke="#555" stroke-width="1.1" />
<line x1="79.40" y1="384.60" x2="96.30" y2="384.60" stroke="#6c6c6c" stroke-width="1.1" />
<line x1="79.40" y1="382.50" x2="79.40" y2="386.70" stroke="#555" stroke-width="1.1" />
<line x1="96.30" y1="382.50" x2="96.30" y2="386.70" stroke="#555" stroke-width="1.1" />
<line x1="87.80" y1="353.90" x2="87.80" y2="415.20" stroke="#6c6c6c" stroke-width="1.1" />
<line x1="85.70" y1="353.90" x2="89.90" y2="353.90" stroke="#555" stroke-width="1.1" />
<line x1="85.70" y1="415.20" x2="89.90" y2="415.20" stroke="#555" stroke-width="1.1" />
<line x1="122.20" y1="356.10" x2="131.50" y2="356.10" stroke="#6c6c6c" stroke-width="1.1" />
<line x1="122.20" y1="354.00" x2="122.20" y2="358.20" stroke="#555" stroke-width="1.1" />
<line x1="131.50" y1="354.00" x2="131.50" y2="358.20" stroke="#555" stroke-width="1.1" />
<line x1="127.10" y1="340.30" x2="127.10" y2="371.50" stroke="#6c6c6c" stroke-width="1.1" />
<line x1="125.00" y1="340.30" x2="129.20" y2="340.30" stroke="#555" stroke-width="1.1" />
<line x1="125.00" y1="371.50" x2="129.20" y2="371.50" stroke="#555" stroke-width="1.1" />
<line x1="129.80" y1="356.90" x2="137.40" y2="356.90" stroke="#6c6c6c" stroke-width="1.1" />
<line x1="129.80" y1="354.80" x2="129.80" y2="359.00" stroke="#555" stroke-width="1.1" />
<line x1="137.40" y1="354.80" x2="137.40" y2="359.00" stroke="#555" stroke-width="1.1" />
<line x1="133.60" y1="353.20" x2="133.60" y2="361.10" stroke="#6c6c6c" stroke-width="1.1" />
<line x1="131.50" y1="353.20" x2="135.70" y2="353.20" stroke="#555" stroke-width="1.1" />
<line x1="131.50" y1="361.10" x2="135.70" y2="361.10" stroke="#555" stroke-width="1.1" />
<line x1="84.40" y1="378.90" x2="163.00" y2="378.90" stroke="#6c6c6c" stroke-width="1.1" />
<line x1="84.40" y1="376.80" x2="84.40" y2="381.00" stroke="#555" stroke-width="1.1" />
<line x1="163.00" y1="376.80" x2="163.00" y2="381.00" stroke="#555" stroke-width="1.1" />
<line x1="123.70" y1="368.40" x2="123.70" y2="389.70" stroke="#6c6c6c" stroke-width="1.1" />
<line x1="121.60" y1="368.40" x2="125.80" y2="368.40" stroke="#555" stroke-width="1.1" />
<line x1="121.60" y1="389.70" x2="125.80" y2="389.70" stroke="#555" stroke-width="1.1" />
<line x1="167.60" y1="358.80" x2="191.50" y2="358.80" stroke="#6c6c6c" stroke-width="1.1" />
<line x1="167.60" y1="356.70" x2="167.60" y2="360.90" stroke="#555" stroke-width="1.1" />
<line x1="191.50" y1="356.70" x2="191.50" y2="360.90" stroke="#555" stroke-width="1.1" />
<line x1="179.60" y1="345.60" x2="179.60" y2="372.20" stroke="#6c6c6c" stroke-width="1.1" />
<line x1="177.50" y1="345.60" x2="181.70" y2="345.60" stroke="#555" stroke-width="1.1" />
<line x1="177.50" y1="372.20" x2="181.70" y2="372.20" stroke="#555" stroke-width="1.1" />
<line x1="236.50" y1="337.50" x2="252.80" y2="337.50" stroke="#6c6c6c" stroke-width="1.1" />
<line x1="236.50" y1="335.40" x2="236.50" y2="339.60" stroke="#555" stroke-width="1.1" />
<line x1="252.80" y1="335.40" x2="252.80" y2="339.60" stroke="#555" stroke-width="1.1" />
<line x1="244.90" y1="328.40" x2="244.90" y2="346.70" stroke="#6c6c6c" stroke-width="1.1" />
<line x1="242.80" y1="328.40" x2="247.00" y2="328.40" stroke="#555" stroke-width="1.1" />
<line x1="242.80" y1="346.70" x2="247.00" y2="346.70" stroke="#555" stroke-width="1.1" />
<line x1="206.50" y1="351.30" x2="276.60" y2="351.30" stroke="#6c6c6c" stroke-width="1.1" />
<line x1="206.50" y1="349.20" x2="206.50" y2="353.40" stroke="#555" stroke-width="1.1" />
<line x1="276.60" y1="349.20" x2="276.60" y2="353.40" stroke="#555" stroke-width="1.1" />
<line x1="241.50" y1="342.60" x2="241.50" y2="359.30" stroke="#6c6c6c" stroke-width="1.1" />
<line x1="239.40" y1="342.60" x2="243.60" y2="342.60" stroke="#555" stroke-width="1.1" />
<line x1="239.40" y1="359.30" x2="243.60" y2="359.30" stroke="#555" stroke-width="1.1" />
<line x1="113.40" y1="336.40" x2="153.70" y2="336.40" stroke="#6c6c6c" stroke-width="1.1" />
<line x1="113.40" y1="334.30" x2="113.40" y2="338.50" stroke="#555" stroke-width="1.1" />
<line x1="153.70" y1="334.30" x2="153.70" y2="338.50" stroke="#555" stroke-width="1.1" />
<line x1="133.60" y1="330.70" x2="133.60" y2="343.10" stroke="#6c6c6c" stroke-width="1.1" />
<line x1="131.50" y1="330.70" x2="135.70" y2="330.70" stroke="#555" stroke-width="1.1" />
<line x1="131.50" y1="343.10" x2="135.70" y2="343.10" stroke="#555" stroke-width="1.1" />
<line x1="130.30" y1="346.20" x2="150.40" y2="346.20" stroke="#6c6c6c" stroke-width="1.1" />
<line x1="130.30" y1="344.10" x2="130.30" y2="348.30" stroke="#555" stroke-width="1.1" />
<line x1="150.40" y1="344.10" x2="150.40" y2="348.30" stroke="#555" stroke-width="1.1" />
<line x1="140.20" y1="330.70" x2="140.20" y2="361.40" stroke="#6c6c6c" stroke-width="1.1" />
<line x1="138.10" y1="330.70" x2="142.30" y2="330.70" stroke="#555" stroke-width="1.1" />
<line x1="138.10" y1="361.40" x2="142.30" y2="361.40" stroke="#555" stroke-width="1.1" />
<line x1="162.50" y1="339.80" x2="222.30" y2="339.80" stroke="#6c6c6c" stroke-width="1.1" />
<line x1="162.50" y1="337.70" x2="162.50" y2="341.90" stroke="#555" stroke-width="1.1" />
<line x1="222.30" y1="337.70" x2="222.30" y2="341.90" stroke="#555" stroke-width="1.1" />
<line x1="192.30" y1="336.50" x2="192.30" y2="343.20" stroke="#6c6c6c" stroke-width="1.1" />
<line x1="190.20" y1="336.50" x2="194.40" y2="336.50" stroke="#555" stroke-width="1.1" />
<line x1="190.20" y1="343.20" x2="194.40" y2="343.20" stroke="#555" stroke-width="1.1" />
<line x1="184.20" y1="356.30" x2="246.40" y2="356.30" stroke="#6c6c6c" stroke-width="1.1" />
<line x1="184.20" y1="354.20" x2="184.20" y2="358.40" stroke="#555" stroke-width="1.1" />
<line x1="246.40" y1="354.20" x2="246.40" y2="358.40" stroke="#555" stroke-width="1.1" />
<line x1="215.50" y1="346.40" x2="215.50" y2="366.00" stroke="#6c6c6c" stroke-width="1.1" />
<line x1="213.40" y1="346.40" x2="217.60" y2="346.40" stroke="#555" stroke-width="1.1" />
<line x1="213.40" y1="366.00" x2="217.60" y2="366.00" stroke="#555" stroke-width="1.1" />
<circle cx="68.20" cy="448.00" r="2.35" fill="#ffff00"/>
<circle cx="77.90" cy="425.60" r="2.35" fill="#ffff00"/>
<circle cx="77.90" cy="404.30" r="2.35" fill="#ffff00"/>
<circle cx="81.20" cy="408.10" r="2.35" fill="#ffff00"/>
<circle cx="81.20" cy="388.00" r="2.35" fill="#ffff00"/>
<circle cx="87.80" cy="384.60" r="2.35" fill="#ffff00"/>
<circle cx="127.10" cy="356.10" r="2.35" fill="#7f7f00"/>
<circle cx="133.60" cy="356.90" r="2.35" fill="#7f7f00"/>
<circle cx="123.70" cy="378.90" r="2.35" fill="#7f7f00"/>
<circle cx="179.60" cy="358.80" r="2.35" fill="#7f7f00"/>
<circle cx="244.90" cy="337.50" r="2.35" fill="#7f7f00"/>
<circle cx="241.50" cy="351.30" r="2.35" fill="#7f7f00"/>
<circle cx="133.60" cy="336.40" r="2.35" fill="#0000ff"/>
<circle cx="140.20" cy="346.20" r="2.35" fill="#0000ff"/>
<circle cx="192.30" cy="339.80" r="2.35" fill="#0000ff"/>
<circle cx="215.50" cy="356.30" r="2.35" fill="#0000ff"/>
<rect x="417.1" y="314.75" width="258.4" height="171.75" fill="none" stroke="#000" stroke-width="1.55"/>
<line x1="412.30" y1="486.50" x2="417.10" y2="486.50" stroke="#000" stroke-width="1.55" />
<text x="410.90" y="490.10" font-size="10.6" font-weight="bold" text-anchor="end" fill="#000" >-1.0</text>
<line x1="412.30" y1="465.03" x2="417.10" y2="465.03" stroke="#000" stroke-width="1.55" />
<text x="410.90" y="468.63" font-size="10.6" font-weight="bold" text-anchor="end" fill="#000" >-0.5</text>
<line x1="412.30" y1="443.56" x2="417.10" y2="443.56" stroke="#000" stroke-width="1.55" />
<text x="410.90" y="447.16" font-size="10.6" font-weight="bold" text-anchor="end" fill="#000" >0.0</text>
<line x1="412.30" y1="422.09" x2="417.10" y2="422.09" stroke="#000" stroke-width="1.55" />
<text x="410.90" y="425.69" font-size="10.6" font-weight="bold" text-anchor="end" fill="#000" >0.5</text>
<line x1="412.30" y1="400.62" x2="417.10" y2="400.62" stroke="#000" stroke-width="1.55" />
<text x="410.90" y="404.23" font-size="10.6" font-weight="bold" text-anchor="end" fill="#000" >1.0</text>
<line x1="412.30" y1="379.16" x2="417.10" y2="379.16" stroke="#000" stroke-width="1.55" />
<text x="410.90" y="382.76" font-size="10.6" font-weight="bold" text-anchor="end" fill="#000" >1.5</text>
<line x1="412.30" y1="357.69" x2="417.10" y2="357.69" stroke="#000" stroke-width="1.55" />
<text x="410.90" y="361.29" font-size="10.6" font-weight="bold" text-anchor="end" fill="#000" >2.0</text>
<line x1="412.30" y1="336.22" x2="417.10" y2="336.22" stroke="#000" stroke-width="1.55" />
<text x="410.90" y="339.82" font-size="10.6" font-weight="bold" text-anchor="end" fill="#000" >2.5</text>
<line x1="412.30" y1="314.75" x2="417.10" y2="314.75" stroke="#000" stroke-width="1.55" />
<text x="410.90" y="318.35" font-size="10.6" font-weight="bold" text-anchor="end" fill="#000" >3.0</text>
<line x1="417.10" y1="486.50" x2="417.10" y2="491.30" stroke="#000" stroke-width="1.55" />
<text x="417.10" y="501.20" font-size="9.9" font-weight="bold" text-anchor="middle" fill="#000" textLength="17.4" lengthAdjust="spacingAndGlyphs">0.00</text>
<line x1="481.70" y1="486.50" x2="481.70" y2="491.30" stroke="#000" stroke-width="1.55" />
<text x="481.70" y="501.20" font-size="9.9" font-weight="bold" text-anchor="middle" fill="#000" textLength="17.4" lengthAdjust="spacingAndGlyphs">0.02</text>
<line x1="546.30" y1="486.50" x2="546.30" y2="491.30" stroke="#000" stroke-width="1.55" />
<text x="546.30" y="501.20" font-size="9.9" font-weight="bold" text-anchor="middle" fill="#000" textLength="17.4" lengthAdjust="spacingAndGlyphs">0.04</text>
<line x1="610.90" y1="486.50" x2="610.90" y2="491.30" stroke="#000" stroke-width="1.55" />
<text x="610.90" y="501.20" font-size="9.9" font-weight="bold" text-anchor="middle" fill="#000" textLength="17.4" lengthAdjust="spacingAndGlyphs">0.06</text>
<line x1="675.50" y1="486.50" x2="675.50" y2="491.30" stroke="#000" stroke-width="1.55" />
<text x="675.50" y="501.20" font-size="9.9" font-weight="bold" text-anchor="middle" fill="#000" textLength="17.4" lengthAdjust="spacingAndGlyphs">0.08</text>
<line x1="417.10" y1="443.56" x2="675.50" y2="443.56" stroke="#000" stroke-width="1" stroke-dasharray="1.1,2.26"/>
<text x="370.20" y="398.90" font-size="12.15" font-weight="bold" text-anchor="middle" transform="rotate(-90 370.20 398.90)">Underwater net photosynthesis</text>
<text x="386.50" y="398.90" font-size="12.15" font-weight="bold" text-anchor="middle" transform="rotate(-90 386.50 398.90)">(µmol O<tspan font-size="9" dy="3">2</tspan><tspan dy="-3"> m</tspan><tspan font-size="9" dy="-6">-2</tspan><tspan dy="6"> s</tspan><tspan font-size="9" dy="-6">-1</tspan><tspan dy="6">)</tspan></text>
<text x="546.30" y="521.00" font-size="12.3" font-weight="bold" text-anchor="middle" fill="#000" >Starch (g g<tspan font-size="9" dy="-6">-1</tspan><tspan dy="6"> </tspan>DM)</text>
<line x1="423.70" y1="451.50" x2="423.70" y2="464.50" stroke="#6c6c6c" stroke-width="1.1" />
<line x1="421.60" y1="451.50" x2="425.80" y2="451.50" stroke="#555" stroke-width="1.1" />
<line x1="421.60" y1="464.50" x2="425.80" y2="464.50" stroke="#555" stroke-width="1.1" />
<line x1="430.30" y1="441.30" x2="461.00" y2="441.30" stroke="#6c6c6c" stroke-width="1.1" />
<line x1="430.30" y1="439.20" x2="430.30" y2="443.40" stroke="#555" stroke-width="1.1" />
<line x1="461.00" y1="439.20" x2="461.00" y2="443.40" stroke="#555" stroke-width="1.1" />
<line x1="445.80" y1="434.50" x2="445.80" y2="447.90" stroke="#6c6c6c" stroke-width="1.1" />
<line x1="443.70" y1="434.50" x2="447.90" y2="434.50" stroke="#555" stroke-width="1.1" />
<line x1="443.70" y1="447.90" x2="447.90" y2="447.90" stroke="#555" stroke-width="1.1" />
<line x1="438.30" y1="425.70" x2="460.30" y2="425.70" stroke="#6c6c6c" stroke-width="1.1" />
<line x1="438.30" y1="423.60" x2="438.30" y2="427.80" stroke="#555" stroke-width="1.1" />
<line x1="460.30" y1="423.60" x2="460.30" y2="427.80" stroke="#555" stroke-width="1.1" />
<line x1="449.40" y1="415.50" x2="449.40" y2="436.30" stroke="#6c6c6c" stroke-width="1.1" />
<line x1="447.30" y1="415.50" x2="451.50" y2="415.50" stroke="#555" stroke-width="1.1" />
<line x1="447.30" y1="436.30" x2="451.50" y2="436.30" stroke="#555" stroke-width="1.1" />
<line x1="420.30" y1="401.10" x2="420.30" y2="432.00" stroke="#6c6c6c" stroke-width="1.1" />
<line x1="418.20" y1="401.10" x2="422.40" y2="401.10" stroke="#555" stroke-width="1.1" />
<line x1="418.20" y1="432.00" x2="422.40" y2="432.00" stroke="#555" stroke-width="1.1" />
<line x1="423.50" y1="388.30" x2="423.50" y2="433.70" stroke="#6c6c6c" stroke-width="1.1" />
<line x1="421.40" y1="388.30" x2="425.60" y2="388.30" stroke="#555" stroke-width="1.1" />
<line x1="421.40" y1="433.70" x2="425.60" y2="433.70" stroke="#555" stroke-width="1.1" />
<line x1="420.30" y1="419.00" x2="420.30" y2="438.30" stroke="#6c6c6c" stroke-width="1.1" />
<line x1="418.20" y1="419.00" x2="422.40" y2="419.00" stroke="#555" stroke-width="1.1" />
<line x1="418.20" y1="438.30" x2="422.40" y2="438.30" stroke="#555" stroke-width="1.1" />
<line x1="429.40" y1="376.50" x2="437.20" y2="376.50" stroke="#6c6c6c" stroke-width="1.1" />
<line x1="429.40" y1="374.40" x2="429.40" y2="378.60" stroke="#555" stroke-width="1.1" />
<line x1="437.20" y1="374.40" x2="437.20" y2="378.60" stroke="#555" stroke-width="1.1" />
<line x1="433.20" y1="369.00" x2="433.20" y2="383.50" stroke="#6c6c6c" stroke-width="1.1" />
<line x1="431.10" y1="369.00" x2="435.30" y2="369.00" stroke="#555" stroke-width="1.1" />
<line x1="431.10" y1="383.50" x2="435.30" y2="383.50" stroke="#555" stroke-width="1.1" />
<line x1="428.30" y1="390.00" x2="438.30" y2="390.00" stroke="#6c6c6c" stroke-width="1.1" />
<line x1="428.30" y1="387.90" x2="428.30" y2="392.10" stroke="#555" stroke-width="1.1" />
<line x1="438.30" y1="387.90" x2="438.30" y2="392.10" stroke="#555" stroke-width="1.1" />
<line x1="433.20" y1="383.50" x2="433.20" y2="401.10" stroke="#6c6c6c" stroke-width="1.1" />
<line x1="431.10" y1="383.50" x2="435.30" y2="383.50" stroke="#555" stroke-width="1.1" />
<line x1="431.10" y1="401.10" x2="435.30" y2="401.10" stroke="#555" stroke-width="1.1" />
<line x1="458.80" y1="390.70" x2="486.00" y2="390.70" stroke="#6c6c6c" stroke-width="1.1" />
<line x1="458.80" y1="388.60" x2="458.80" y2="392.80" stroke="#555" stroke-width="1.1" />
<line x1="486.00" y1="388.60" x2="486.00" y2="392.80" stroke="#555" stroke-width="1.1" />
<line x1="477.00" y1="392.10" x2="500.00" y2="392.10" stroke="#6c6c6c" stroke-width="1.1" />
<line x1="477.00" y1="390.00" x2="477.00" y2="394.20" stroke="#555" stroke-width="1.1" />
<line x1="500.00" y1="390.00" x2="500.00" y2="394.20" stroke="#555" stroke-width="1.1" />
<line x1="488.20" y1="382.30" x2="488.20" y2="402.10" stroke="#6c6c6c" stroke-width="1.1" />
<line x1="486.10" y1="382.30" x2="490.30" y2="382.30" stroke="#555" stroke-width="1.1" />
<line x1="486.10" y1="402.10" x2="490.30" y2="402.10" stroke="#555" stroke-width="1.1" />
<line x1="471.40" y1="407.00" x2="511.60" y2="407.00" stroke="#6c6c6c" stroke-width="1.1" />
<line x1="471.40" y1="404.90" x2="471.40" y2="409.10" stroke="#555" stroke-width="1.1" />
<line x1="511.60" y1="404.90" x2="511.60" y2="409.10" stroke="#555" stroke-width="1.1" />
<line x1="491.20" y1="399.10" x2="491.20" y2="414.90" stroke="#6c6c6c" stroke-width="1.1" />
<line x1="489.10" y1="399.10" x2="493.30" y2="399.10" stroke="#555" stroke-width="1.1" />
<line x1="489.10" y1="414.90" x2="493.30" y2="414.90" stroke="#555" stroke-width="1.1" />
<line x1="467.20" y1="386.10" x2="541.50" y2="386.10" stroke="#6c6c6c" stroke-width="1.1" />
<line x1="467.20" y1="384.00" x2="467.20" y2="388.20" stroke="#555" stroke-width="1.1" />
<line x1="541.50" y1="384.00" x2="541.50" y2="388.20" stroke="#555" stroke-width="1.1" />
<line x1="504.00" y1="380.40" x2="504.00" y2="392.20" stroke="#6c6c6c" stroke-width="1.1" />
<line x1="501.90" y1="380.40" x2="506.10" y2="380.40" stroke="#555" stroke-width="1.1" />
<line x1="501.90" y1="392.20" x2="506.10" y2="392.20" stroke="#555" stroke-width="1.1" />
<line x1="477.50" y1="390.00" x2="518.20" y2="390.00" stroke="#6c6c6c" stroke-width="1.1" />
<line x1="477.50" y1="387.90" x2="477.50" y2="392.10" stroke="#555" stroke-width="1.1" />
<line x1="518.20" y1="387.90" x2="518.20" y2="392.10" stroke="#555" stroke-width="1.1" />
<line x1="498.00" y1="383.40" x2="498.00" y2="397.40" stroke="#6c6c6c" stroke-width="1.1" />
<line x1="495.90" y1="383.40" x2="500.10" y2="383.40" stroke="#555" stroke-width="1.1" />
<line x1="495.90" y1="397.40" x2="500.10" y2="397.40" stroke="#555" stroke-width="1.1" />
<line x1="489.70" y1="378.10" x2="518.20" y2="378.10" stroke="#6c6c6c" stroke-width="1.1" />
<line x1="489.70" y1="376.00" x2="489.70" y2="380.20" stroke="#555" stroke-width="1.1" />
<line x1="518.20" y1="376.00" x2="518.20" y2="380.20" stroke="#555" stroke-width="1.1" />
<line x1="474.50" y1="383.00" x2="579.40" y2="383.00" stroke="#6c6c6c" stroke-width="1.1" />
<line x1="474.50" y1="380.90" x2="474.50" y2="385.10" stroke="#555" stroke-width="1.1" />
<line x1="579.40" y1="380.90" x2="579.40" y2="385.10" stroke="#555" stroke-width="1.1" />
<line x1="526.90" y1="371.50" x2="526.90" y2="394.10" stroke="#6c6c6c" stroke-width="1.1" />
<line x1="524.80" y1="371.50" x2="529.00" y2="371.50" stroke="#555" stroke-width="1.1" />
<line x1="524.80" y1="394.10" x2="529.00" y2="394.10" stroke="#555" stroke-width="1.1" />
<line x1="496.60" y1="376.30" x2="561.50" y2="376.30" stroke="#6c6c6c" stroke-width="1.1" />
<line x1="496.60" y1="374.20" x2="496.60" y2="378.40" stroke="#555" stroke-width="1.1" />
<line x1="561.50" y1="374.20" x2="561.50" y2="378.40" stroke="#555" stroke-width="1.1" />
<line x1="539.60" y1="370.70" x2="539.60" y2="382.00" stroke="#6c6c6c" stroke-width="1.1" />
<line x1="537.50" y1="370.70" x2="541.70" y2="370.70" stroke="#555" stroke-width="1.1" />
<line x1="537.50" y1="382.00" x2="541.70" y2="382.00" stroke="#555" stroke-width="1.1" />
<line x1="497.00" y1="375.90" x2="640.70" y2="375.90" stroke="#6c6c6c" stroke-width="1.1" />
<line x1="497.00" y1="373.80" x2="497.00" y2="378.00" stroke="#555" stroke-width="1.1" />
<line x1="640.70" y1="373.80" x2="640.70" y2="378.00" stroke="#555" stroke-width="1.1" />
<line x1="568.90" y1="371.00" x2="568.90" y2="380.30" stroke="#6c6c6c" stroke-width="1.1" />
<line x1="566.80" y1="371.00" x2="571.00" y2="371.00" stroke="#555" stroke-width="1.1" />
<line x1="566.80" y1="380.30" x2="571.00" y2="380.30" stroke="#555" stroke-width="1.1" />
<line x1="470.70" y1="354.90" x2="634.60" y2="354.90" stroke="#6c6c6c" stroke-width="1.1" />
<line x1="470.70" y1="352.80" x2="470.70" y2="357.00" stroke="#555" stroke-width="1.1" />
<line x1="634.60" y1="352.80" x2="634.60" y2="357.00" stroke="#555" stroke-width="1.1" />
<line x1="552.60" y1="339.90" x2="552.60" y2="370.30" stroke="#6c6c6c" stroke-width="1.1" />
<line x1="550.50" y1="339.90" x2="554.70" y2="339.90" stroke="#555" stroke-width="1.1" />
<line x1="550.50" y1="370.30" x2="554.70" y2="370.30" stroke="#555" stroke-width="1.1" />
<circle cx="423.70" cy="458.10" r="2.35" fill="#ffff00"/>
<circle cx="445.80" cy="441.30" r="2.35" fill="#ffff00"/>
<circle cx="449.40" cy="425.70" r="2.35" fill="#ffff00"/>
<circle cx="420.30" cy="413.80" r="2.35" fill="#ffff00"/>
<circle cx="423.50" cy="411.10" r="2.35" fill="#ffff00"/>
<circle cx="420.30" cy="428.50" r="2.35" fill="#ffff00"/>
<circle cx="433.20" cy="376.50" r="2.35" fill="#7f7f00"/>
<circle cx="433.20" cy="390.00" r="2.35" fill="#7f7f00"/>
<circle cx="472.00" cy="390.70" r="2.35" fill="#7f7f00"/>
<circle cx="488.20" cy="392.10" r="2.35" fill="#7f7f00"/>
<circle cx="491.20" cy="407.00" r="2.35" fill="#7f7f00"/>
<circle cx="504.00" cy="386.10" r="2.35" fill="#7f7f00"/>
<circle cx="498.00" cy="390.00" r="2.35" fill="#0000ff"/>
<circle cx="507.20" cy="378.10" r="2.35" fill="#0000ff"/>
<circle cx="526.90" cy="383.00" r="2.35" fill="#0000ff"/>
<circle cx="539.60" cy="376.30" r="2.35" fill="#0000ff"/>
<circle cx="568.90" cy="375.90" r="2.35" fill="#0000ff"/>
<circle cx="552.60" cy="354.90" r="2.35" fill="#0000ff"/>
</svg>
</body></html>
